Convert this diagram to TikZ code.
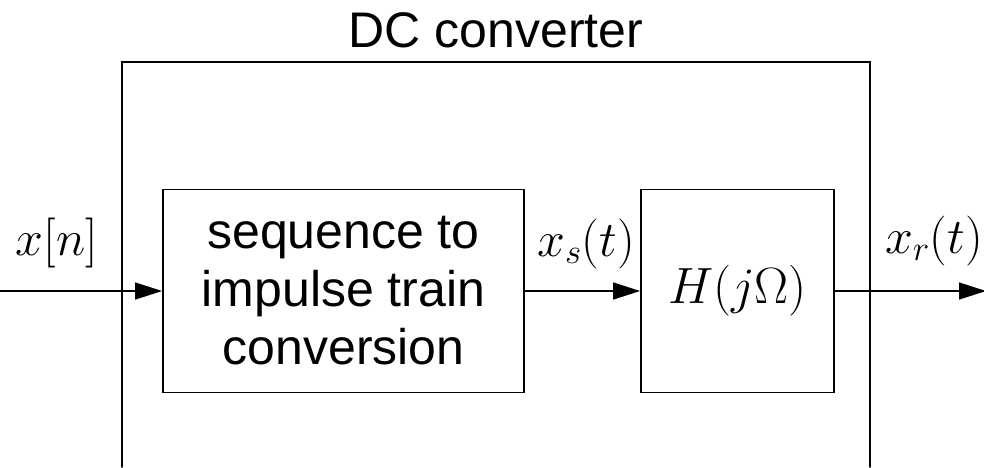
\RequirePackage{fix-cm}
\documentclass[tikz,border=0pt]{standalone}
\usepackage{fontspec}
\newfontfamily\blockfont{Liberation Sans}
\usetikzlibrary{arrows.meta}

\tikzset{
  block/.style={draw, line width=1.8pt, inner sep=0pt, align=center,
    font=\blockfont\fontsize{50}{58}\selectfont},
  signal/.style={line width=1.4pt, -{Triangle[length=27pt,width=17pt]}},
  sig/.style={anchor=base, inner sep=0pt, font=\fontsize{50}{60}\selectfont},
}

\begin{document}
\begin{tikzpicture}[x=1pt,y=-1pt,line cap=round]
  \useasboundingbox (0,0) rectangle (984,467);
  % frame of the converter, left open at the bottom
  \draw[line width=1.8pt] (122,467) -- (122,62) -- (870,62) -- (870,467);
  \node[anchor=base, inner sep=0pt, font=\blockfont\fontsize{50}{58}\selectfont]
    (title) at (496,47) {DC converter};

  \node[block, minimum width=361pt, minimum height=203pt] (seq) at (343.5,291)
    {sequence to\\impulse train\\conversion};
  \node[block, minimum width=193pt, minimum height=203pt,
    font=\fontsize{51}{60}\selectfont] (filt) at (737.5,291) {$H(j\Omega)$};

  \coordinate (xin) at (0,291);
  \coordinate (xout) at (986,291);
  \draw[signal] (xin) -- (seq.west);
  \draw[signal] (seq.east) -- (filt.west);
  \draw[signal] (filt.east) -- (xout);

  \node[sig] (xn) at (57,255) {$x[n]$};
  \node[sig] (xs) at (586,256) {$x_s(t)$};
  \node[sig] (xr) at (934,253) {$x_r(t)$};
\end{tikzpicture}
\end{document}
